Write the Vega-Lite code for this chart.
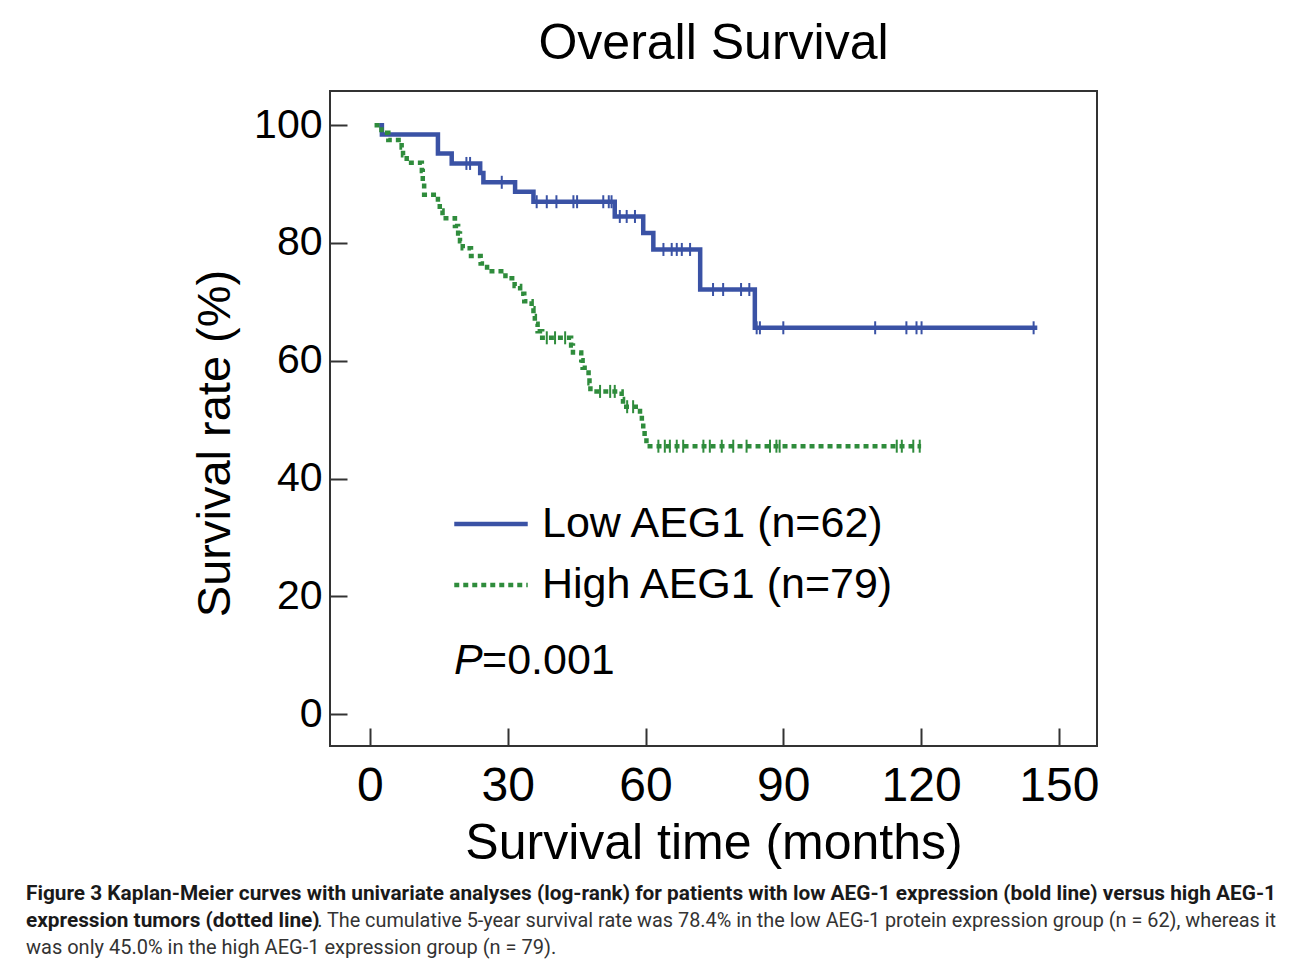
{
  "$schema": "https://vega.github.io/schema/vega-lite/v6.json",
  "description": "Kaplan-Meier overall survival by AEG-1 expression, with figure caption.",
  "padding": {"left": 26, "top": 18, "right": 10, "bottom": 10},
  "background": "white",
  "datasets": {
    "curves": [
      {"group": "Low AEG1 (n=62)", "time": 2, "surv": 100},
      {"group": "Low AEG1 (n=62)", "time": 2.6, "surv": 98.4},
      {"group": "Low AEG1 (n=62)", "time": 14.8, "surv": 95.2},
      {"group": "Low AEG1 (n=62)", "time": 17.8, "surv": 93.5},
      {"group": "Low AEG1 (n=62)", "time": 24, "surv": 91.9},
      {"group": "Low AEG1 (n=62)", "time": 24.7, "surv": 90.3},
      {"group": "Low AEG1 (n=62)", "time": 31.6, "surv": 88.7},
      {"group": "Low AEG1 (n=62)", "time": 35.6, "surv": 87.0},
      {"group": "Low AEG1 (n=62)", "time": 53.3, "surv": 84.5},
      {"group": "Low AEG1 (n=62)", "time": 59.5, "surv": 81.7},
      {"group": "Low AEG1 (n=62)", "time": 61.7, "surv": 78.9},
      {"group": "Low AEG1 (n=62)", "time": 71.9, "surv": 72.1},
      {"group": "Low AEG1 (n=62)", "time": 83.8, "surv": 65.6},
      {"group": "Low AEG1 (n=62)", "time": 145.3, "surv": 65.6},
      {"group": "High AEG1 (n=79)", "time": 1, "surv": 100},
      {"group": "High AEG1 (n=79)", "time": 2.5, "surv": 98.7},
      {"group": "High AEG1 (n=79)", "time": 4, "surv": 97.5},
      {"group": "High AEG1 (n=79)", "time": 6.9, "surv": 96.2},
      {"group": "High AEG1 (n=79)", "time": 7.2, "surv": 94.9},
      {"group": "High AEG1 (n=79)", "time": 8, "surv": 93.6},
      {"group": "High AEG1 (n=79)", "time": 11.3, "surv": 92.2},
      {"group": "High AEG1 (n=79)", "time": 11.5, "surv": 90.2},
      {"group": "High AEG1 (n=79)", "time": 11.8, "surv": 88.2},
      {"group": "High AEG1 (n=79)", "time": 14.8, "surv": 86.8},
      {"group": "High AEG1 (n=79)", "time": 15.2, "surv": 85.5},
      {"group": "High AEG1 (n=79)", "time": 15.8, "surv": 84.2},
      {"group": "High AEG1 (n=79)", "time": 18.5, "surv": 82.9},
      {"group": "High AEG1 (n=79)", "time": 19.2, "surv": 81.6},
      {"group": "High AEG1 (n=79)", "time": 19.6, "surv": 80.3},
      {"group": "High AEG1 (n=79)", "time": 20.2, "surv": 79.1},
      {"group": "High AEG1 (n=79)", "time": 22, "surv": 77.8},
      {"group": "High AEG1 (n=79)", "time": 24.1, "surv": 76.5},
      {"group": "High AEG1 (n=79)", "time": 25.5, "surv": 75.2},
      {"group": "High AEG1 (n=79)", "time": 29.5, "surv": 74.0},
      {"group": "High AEG1 (n=79)", "time": 31.5, "surv": 72.7},
      {"group": "High AEG1 (n=79)", "time": 32.7, "surv": 71.4},
      {"group": "High AEG1 (n=79)", "time": 33.6, "surv": 70.1},
      {"group": "High AEG1 (n=79)", "time": 35.2, "surv": 68.9},
      {"group": "High AEG1 (n=79)", "time": 35.6, "surv": 67.6},
      {"group": "High AEG1 (n=79)", "time": 35.9, "surv": 66.3},
      {"group": "High AEG1 (n=79)", "time": 36.5, "surv": 65.0},
      {"group": "High AEG1 (n=79)", "time": 37.5, "surv": 63.9},
      {"group": "High AEG1 (n=79)", "time": 43.8, "surv": 62.6},
      {"group": "High AEG1 (n=79)", "time": 44.2, "surv": 61.4},
      {"group": "High AEG1 (n=79)", "time": 46, "surv": 60.1},
      {"group": "High AEG1 (n=79)", "time": 46.3, "surv": 58.8},
      {"group": "High AEG1 (n=79)", "time": 47.6, "surv": 57.5},
      {"group": "High AEG1 (n=79)", "time": 47.8, "surv": 56.2},
      {"group": "High AEG1 (n=79)", "time": 48, "surv": 54.8},
      {"group": "High AEG1 (n=79)", "time": 54.8, "surv": 53.5},
      {"group": "High AEG1 (n=79)", "time": 55.1, "surv": 52.2},
      {"group": "High AEG1 (n=79)", "time": 58.8, "surv": 50.9},
      {"group": "High AEG1 (n=79)", "time": 59.2, "surv": 49.6},
      {"group": "High AEG1 (n=79)", "time": 59.5, "surv": 48.3},
      {"group": "High AEG1 (n=79)", "time": 59.8, "surv": 47.0},
      {"group": "High AEG1 (n=79)", "time": 60.2, "surv": 45.5},
      {"group": "High AEG1 (n=79)", "time": 120, "surv": 45.5}
    ],
    "censored": [
      {"group": "Low AEG1 (n=62)", "time": 21.0, "surv": 93.5},
      {"group": "Low AEG1 (n=62)", "time": 21.8, "surv": 93.5},
      {"group": "Low AEG1 (n=62)", "time": 28.7, "surv": 90.3},
      {"group": "Low AEG1 (n=62)", "time": 36.3, "surv": 87.0},
      {"group": "Low AEG1 (n=62)", "time": 38.5, "surv": 87.0},
      {"group": "Low AEG1 (n=62)", "time": 40.6, "surv": 87.0},
      {"group": "Low AEG1 (n=62)", "time": 44.3, "surv": 87.0},
      {"group": "Low AEG1 (n=62)", "time": 45.1, "surv": 87.0},
      {"group": "Low AEG1 (n=62)", "time": 50.8, "surv": 87.0},
      {"group": "Low AEG1 (n=62)", "time": 52.0, "surv": 87.0},
      {"group": "Low AEG1 (n=62)", "time": 52.6, "surv": 87.0},
      {"group": "Low AEG1 (n=62)", "time": 54.4, "surv": 84.5},
      {"group": "Low AEG1 (n=62)", "time": 55.9, "surv": 84.5},
      {"group": "Low AEG1 (n=62)", "time": 57.7, "surv": 84.5},
      {"group": "Low AEG1 (n=62)", "time": 63.9, "surv": 78.9},
      {"group": "Low AEG1 (n=62)", "time": 65.7, "surv": 78.9},
      {"group": "Low AEG1 (n=62)", "time": 66.8, "surv": 78.9},
      {"group": "Low AEG1 (n=62)", "time": 67.9, "surv": 78.9},
      {"group": "Low AEG1 (n=62)", "time": 69.7, "surv": 78.9},
      {"group": "Low AEG1 (n=62)", "time": 74.7, "surv": 72.1},
      {"group": "Low AEG1 (n=62)", "time": 76.9, "surv": 72.1},
      {"group": "Low AEG1 (n=62)", "time": 80.8, "surv": 72.1},
      {"group": "Low AEG1 (n=62)", "time": 82.6, "surv": 72.1},
      {"group": "Low AEG1 (n=62)", "time": 84.2, "surv": 65.6},
      {"group": "Low AEG1 (n=62)", "time": 84.9, "surv": 65.6},
      {"group": "Low AEG1 (n=62)", "time": 90.0, "surv": 65.6},
      {"group": "Low AEG1 (n=62)", "time": 110.0, "surv": 65.6},
      {"group": "Low AEG1 (n=62)", "time": 116.8, "surv": 65.6},
      {"group": "Low AEG1 (n=62)", "time": 119.0, "surv": 65.6},
      {"group": "Low AEG1 (n=62)", "time": 120.1, "surv": 65.6},
      {"group": "Low AEG1 (n=62)", "time": 144.5, "surv": 65.6},
      {"group": "High AEG1 (n=79)", "time": 38.5, "surv": 63.9},
      {"group": "High AEG1 (n=79)", "time": 40.3, "surv": 63.9},
      {"group": "High AEG1 (n=79)", "time": 42.5, "surv": 63.9},
      {"group": "High AEG1 (n=79)", "time": 50.1, "surv": 54.8},
      {"group": "High AEG1 (n=79)", "time": 52.3, "surv": 54.8},
      {"group": "High AEG1 (n=79)", "time": 53.3, "surv": 54.8},
      {"group": "High AEG1 (n=79)", "time": 56.0, "surv": 52.2},
      {"group": "High AEG1 (n=79)", "time": 57.3, "surv": 52.2},
      {"group": "High AEG1 (n=79)", "time": 62.8, "surv": 45.5},
      {"group": "High AEG1 (n=79)", "time": 64.2, "surv": 45.5},
      {"group": "High AEG1 (n=79)", "time": 65.3, "surv": 45.5},
      {"group": "High AEG1 (n=79)", "time": 66.8, "surv": 45.5},
      {"group": "High AEG1 (n=79)", "time": 68.2, "surv": 45.5},
      {"group": "High AEG1 (n=79)", "time": 72.6, "surv": 45.5},
      {"group": "High AEG1 (n=79)", "time": 74.0, "surv": 45.5},
      {"group": "High AEG1 (n=79)", "time": 76.6, "surv": 45.5},
      {"group": "High AEG1 (n=79)", "time": 79.1, "surv": 45.5},
      {"group": "High AEG1 (n=79)", "time": 82.0, "surv": 45.5},
      {"group": "High AEG1 (n=79)", "time": 87.1, "surv": 45.5},
      {"group": "High AEG1 (n=79)", "time": 88.5, "surv": 45.5},
      {"group": "High AEG1 (n=79)", "time": 89.2, "surv": 45.5},
      {"group": "High AEG1 (n=79)", "time": 114.7, "surv": 45.5},
      {"group": "High AEG1 (n=79)", "time": 115.8, "surv": 45.5},
      {"group": "High AEG1 (n=79)", "time": 118.3, "surv": 45.5},
      {"group": "High AEG1 (n=79)", "time": 119.7, "surv": 45.5}
    ],
    "caption": [
      {"line": 1, "side": "left", "weight": "bold", "text": "Figure 3 Kaplan-Meier curves with univariate analyses (log-rank) for patients with low AEG-1 expression (bold line) versus high AEG-1"},
      {"line": 2, "side": "left", "weight": "bold", "text": "expression tumors (dotted line)"},
      {"line": 2, "side": "right", "weight": "normal", "text": ". The cumulative 5-year survival rate was 78.4% in the low AEG-1 protein expression group (n = 62), whereas it"},
      {"line": 3, "side": "left", "weight": "normal", "text": "was only 45.0% in the high AEG-1 expression group (n = 79)."}
    ]
  },
  "vconcat": [
    {
      "width": 767,
      "height": 655,
      "title": {"text": "Overall Survival", "fontSize": 50, "fontWeight": "normal", "anchor": "middle", "offset": 22, "color": "black"},
      "layer": [
        {
          "data": {"name": "curves"},
          "mark": {"type": "line", "interpolate": "step-after", "strokeWidth": 4.5},
          "encoding": {
            "x": {
              "field": "time", "type": "quantitative",
              "scale": {"domain": [-8.7, 158.3], "nice": false, "zero": false},
              "axis": {
                "values": [0, 30, 60, 90, 120, 150],
                "title": "Survival time (months)",
                "titleFontSize": 50, "titleFontWeight": "normal", "titlePadding": 8,
                "labelFontSize": 48, "labelPadding": 34, "tickSize": -18, "labelFlush": false
              }
            },
            "y": {
              "field": "surv", "type": "quantitative",
              "scale": {"domain": [-5.4, 105.8], "nice": false, "zero": false},
              "axis": {
                "values": [0, 20, 40, 60, 80, 100],
                "title": "Survival rate (%)",
                "titleFontSize": 47, "titleFontWeight": "normal", "titlePadding": 14, "titleY": 352,
                "labelFontSize": 41, "labelPadding": 25, "tickSize": -17
              }
            },
            "color": {
              "field": "group", "type": "nominal",
              "scale": {"domain": ["Low AEG1 (n=62)", "High AEG1 (n=79)"], "range": ["#3a52a5", "#2f8c3c"]},
              "legend": null
            },
            "strokeDash": {
              "field": "group", "type": "nominal",
              "scale": {"domain": ["Low AEG1 (n=62)", "High AEG1 (n=79)"], "range": [[1, 0], [5, 4]]},
              "legend": {
                "title": null, "orient": "none", "legendX": 122, "legendY": 394,
                "symbolType": "stroke", "symbolSize": 5400, "symbolStrokeWidth": 4.5,
                "labelFontSize": 43, "labelLimit": 600, "labelOffset": 12, "rowPadding": -40, "padding": 0,
                "labelColor": "black",
                "encode": {
                  "symbols": {
                    "update": {
                      "stroke": [
                        {"test": "datum.value === 'Low AEG1 (n=62)'", "value": "#3a52a5"},
                        {"value": "#2f8c3c"}
                      ]
                    }
                  }
                }
              }
            },
            "order": {"field": "time", "type": "quantitative"}
          }
        },
        {
          "data": {"name": "censored"},
          "mark": {"type": "tick", "orient": "vertical", "size": 13, "thickness": 2, "opacity": 1},
          "encoding": {
            "x": {"field": "time", "type": "quantitative"},
            "y": {"field": "surv", "type": "quantitative"},
            "color": {"field": "group", "type": "nominal"}
          }
        },
        {
          "data": {"values": [{"label": "P"}]},
          "mark": {"type": "text", "fontSize": 43, "fontStyle": "italic", "align": "left", "baseline": "middle", "color": "black"},
          "encoding": {
            "x": {"datum": 18.3, "type": "quantitative"},
            "y": {"datum": 9, "type": "quantitative"},
            "text": {"field": "label"}
          }
        },
        {
          "data": {"values": [{"label": "=0.001"}]},
          "mark": {"type": "text", "fontSize": 43, "align": "left", "baseline": "middle", "color": "black"},
          "encoding": {
            "x": {"datum": 24.4, "type": "quantitative"},
            "y": {"datum": 9, "type": "quantitative"},
            "text": {"field": "label"}
          }
        }
      ]
    },
    {
      "width": 946,
      "height": 80,
      "view": {"stroke": null},
      "data": {"name": "caption"},
      "encoding": {
        "x": {"field": "side", "type": "nominal", "scale": {"type": "point", "domain": ["left", "right"], "range": [-304, 946], "padding": 0}, "axis": null},
        "y": {"field": "line", "type": "ordinal", "scale": {"type": "point", "padding": 0.5}, "axis": null},
        "text": {"field": "text"}
      },
      "layer": [
        {
          "transform": [{"filter": "datum.weight === 'bold'"}],
          "mark": {"type": "text", "align": "left", "baseline": "middle", "fontSize": 20.8, "fontWeight": "bold", "font": "Roboto", "color": "#1a1a1a"}
        },
        {
          "transform": [{"filter": "datum.weight === 'normal' && datum.side === 'left'"}],
          "mark": {"type": "text", "align": "left", "baseline": "middle", "fontSize": 20, "font": "Roboto", "color": "#333333"}
        },
        {
          "transform": [{"filter": "datum.weight === 'normal' && datum.side === 'right'"}],
          "mark": {"type": "text", "align": "right", "baseline": "middle", "fontSize": 19.85, "font": "Roboto", "color": "#333333"}
        }
      ]
    }
  ],
  "spacing": 135,
  "bounds": "flush",
  "resolve": {"scale": {"x": "independent", "y": "independent", "color": "independent"}},
  "config": {
    "font": "Liberation Sans",
    "view": {"stroke": "#333333", "strokeWidth": 2},
    "axis": {"grid": false, "domain": false, "tickColor": "#333333", "tickWidth": 2, "labelColor": "black", "titleColor": "black"}
  }
}
